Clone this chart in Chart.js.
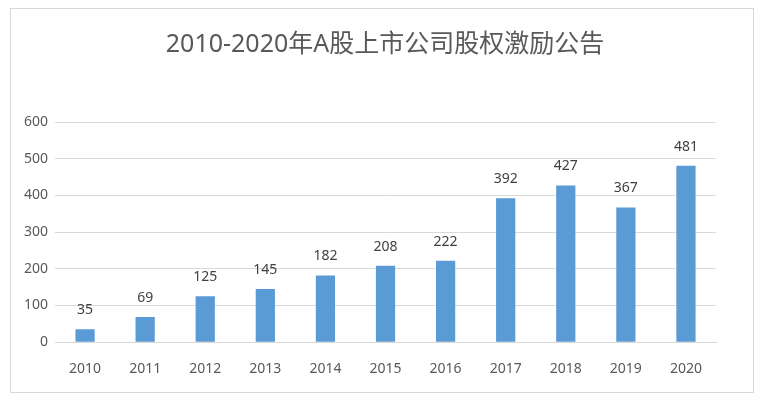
<!DOCTYPE html>
<html>
<head>
<meta charset="utf-8">
<script src="https://cdn.jsdelivr.net/npm/chart.js@4.4.1/dist/chart.umd.min.js"></script>
<style>
  html, body { margin: 0; padding: 0; background: #fff; }
  #box {
    position: absolute; left: 10px; top: 8px;
    width: 742px; height: 383px;
    border: 1px solid #d9d9d9;
  }
</style>
</head>
<body>
<div id="box"><canvas id="chart" width="742" height="383"></canvas></div>
<script>
// data
const years = ['2010', '2011', '2012', '2013', '2014', '2015', '2016', '2017', '2018', '2019', '2020'];
const counts = [35, 69, 125, 145, 182, 208, 222, 392, 427, 367, 481];
const yTicks = [0, 100, 200, 300, 400, 500, 600];

const fontFamily = '"Noto Sans", "Noto Sans CJK SC", sans-serif';

// value labels above each bar
const barLabels = {
  id: 'barLabels',
  afterDatasetsDraw(chart) {
    const ctx = chart.ctx;
    const meta = chart.getDatasetMeta(0);
    ctx.save();
    ctx.font = '14px ' + fontFamily;
    ctx.fillStyle = '#404040';
    ctx.textAlign = 'center';
    ctx.textBaseline = 'bottom';
    meta.data.forEach((bar, i) => {
      ctx.fillText(counts[i], bar.x, bar.y - 12);
    });
    ctx.restore();
  }
};

const ctx = document.getElementById('chart').getContext('2d');
new Chart(ctx, {
  type: 'bar',
  data: {
    labels: years,
    datasets: [{
      data: counts,
      backgroundColor: '#5b9bd5',
      barPercentage: 0.32,
      categoryPercentage: 1
    }]
  },
  options: {
    responsive: false,
    animation: false,
    layout: { padding: { left: 6, right: 0, top: 0, bottom: 5 } },
    plugins: {
      legend: { display: false },
      tooltip: { enabled: false },
      title: {
        display: true,
        text: '2010-2020年A股上市公司股权激励公告',
        color: '#595959',
        font: { family: fontFamily, size: 25, weight: 'normal' },
        padding: { top: 21, bottom: 62 }
      }
    },
    scales: {
      x: {
        grid: { display: false },
        border: { color: '#d9d9d9' },
        ticks: { color: '#595959', font: { family: fontFamily, size: 14 }, padding: 10 }
      },
      y: {
        min: 0,
        max: 600,
        afterBuildTicks(axis) { axis.ticks = yTicks.map(v => ({ value: v })); },
        grid: { color: '#d9d9d9', drawTicks: false },
        border: { display: false },
        ticks: { color: '#595959', font: { family: fontFamily, size: 14 }, padding: 7 }
      },
      // empty right-hand axis, only reserves the blank margin
      spacer: {
        position: 'right',
        grid: { display: false },
        border: { display: false },
        ticks: { display: false },
        afterFit(axis) { axis.width = 37; }
      }
    }
  },
  plugins: [barLabels]
});
</script>
</body>
</html>
